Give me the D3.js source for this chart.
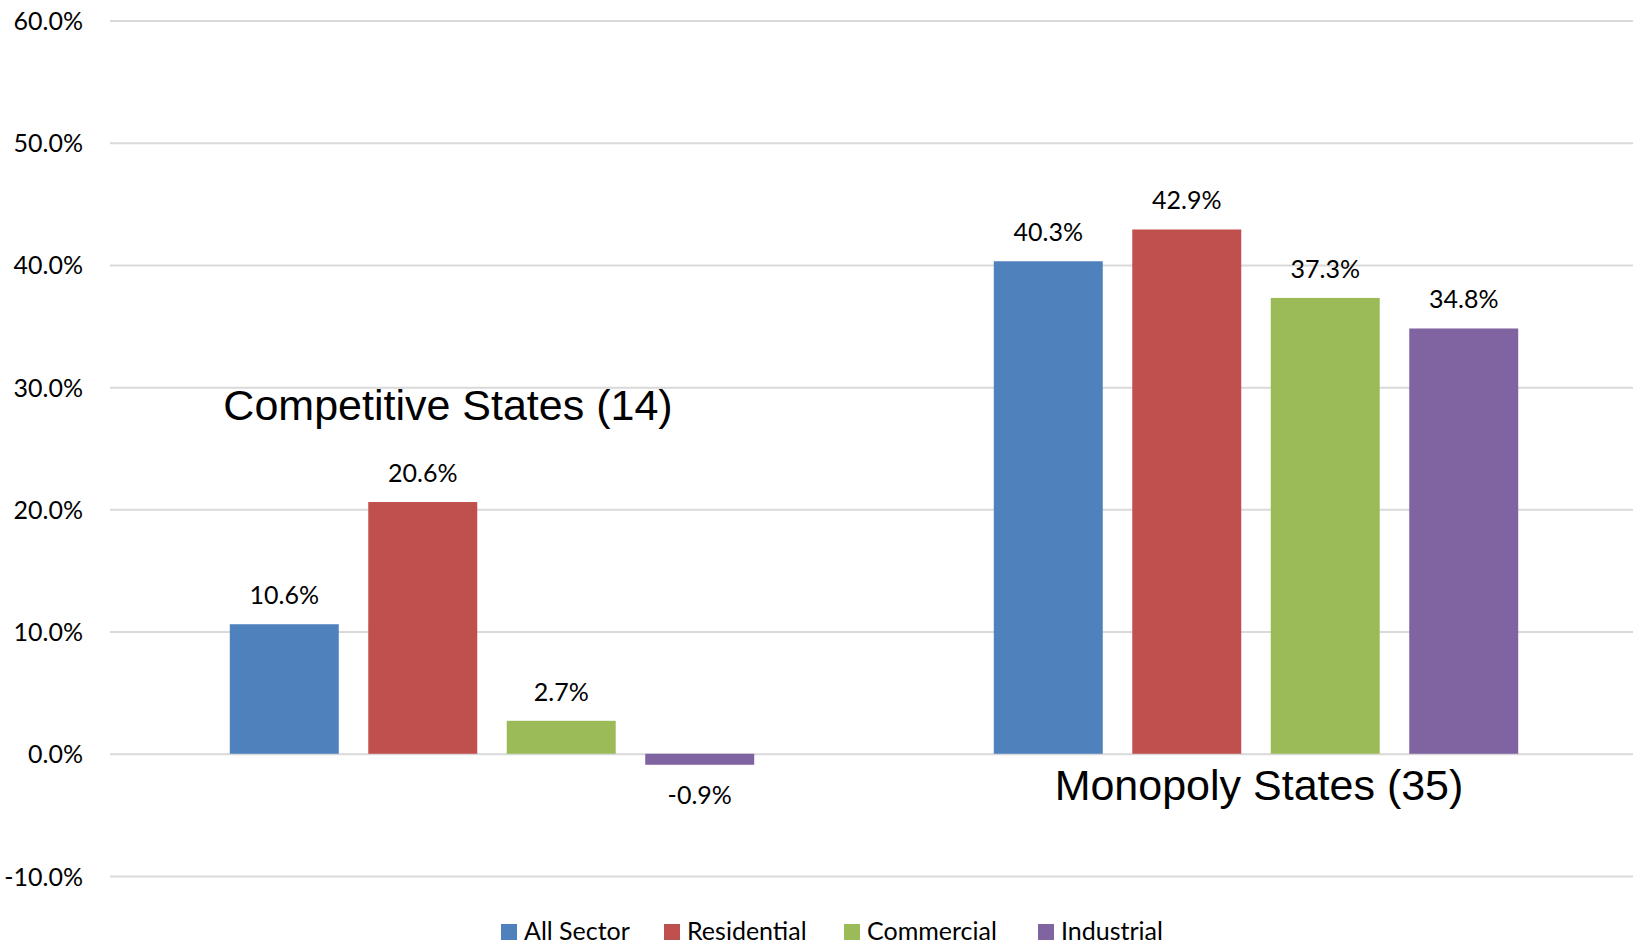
<!DOCTYPE html>
<html>
<head>
<meta charset="utf-8">
<script src="https://cdn.jsdelivr.net/npm/d3@7"></script>
<style>
  html, body { margin: 0; padding: 0; background: #fff; }
  svg { display: block; }
  .lbl { font-family: Lato, "Open Sans", sans-serif; font-size: 25px; fill: #000; }
  .grp { font-family: "Liberation Sans", Arial, sans-serif; font-size: 43px; fill: #000; }
</style>
</head>
<body>
<svg id="chart" width="1633" height="951"></svg>
<script>
const categories = ["Competitive States (14)", "Monopoly States (35)"];
const seriesNames = ["All Sector", "Residential", "Commercial", "Industrial"];
const allSector   = [10.6, 40.3];
const residential = [20.6, 42.9];
const commercial  = [2.7, 37.3];
const industrial  = [-0.9, 34.8];
const yTicks = [-10, 0, 10, 20, 30, 40, 50, 60];
const colors = ["#4f81bd", "#c0504d", "#9bbb59", "#8064a2"];

const seriesValues = [allSector, residential, commercial, industrial];
const rows = categories.map((c, i) => ({
  category: c,
  values: seriesNames.map((s, j) => ({ series: s, value: seriesValues[j][i] }))
}));

const locale = d3.formatLocale({ decimal: ".", thousands: ",", grouping: [3], currency: ["$", ""], minus: "-" });
const pct = v => locale.format(".1f")(v) + "%";

const W = 1633, H = 951;
const plotLeft = 110, plotRight = 1638;
const svg = d3.select("#chart");

const y = d3.scaleLinear().domain([-10, 60]).range([876, 20.5]);
const x0 = d3.scaleBand().domain(categories).range([plotLeft, plotRight]).padding(0);
const x1 = d3.scaleBand().domain(seriesNames).range([0, x0.bandwidth()])
  .paddingInner(0.213).paddingOuter(0.865);
const color = d3.scaleOrdinal().domain(seriesNames).range(colors);

// gridlines
const yAxisGrid = d3.axisLeft(y).tickValues(yTicks).tickSize(-(W - plotLeft)).tickFormat("");
const gGrid = svg.append("g").attr("transform", `translate(${plotLeft},0)`).call(yAxisGrid);
gGrid.select(".domain").remove();
gGrid.selectAll("line").attr("stroke", "#d9d9d9").attr("stroke-width", 2);

// y axis labels
const yAxis = d3.axisLeft(y).tickValues(yTicks).tickSize(0).tickPadding(0).tickFormat(pct);
const gY = svg.append("g").attr("transform", "translate(83,0)").call(yAxis);
gY.select(".domain").remove();
gY.selectAll("text").attr("class", "lbl").attr("font-family", null).attr("font-size", null)
  .attr("dy", "0.36em").attr("fill", "#000");

// bars
const groups = svg.append("g").selectAll("g").data(rows).join("g")
  .attr("transform", d => `translate(${x0(d.category)},0)`);

groups.selectAll("rect").data(d => d.values).join("rect")
  .attr("x", d => x1(d.series))
  .attr("width", x1.bandwidth())
  .attr("y", d => y(Math.max(0, d.value)))
  .attr("height", d => Math.abs(y(d.value) - y(0)))
  .attr("fill", d => color(d.series));

groups.selectAll("text.val").data(d => d.values).join("text")
  .attr("class", "lbl val")
  .attr("text-anchor", "middle")
  .attr("x", d => x1(d.series) + x1.bandwidth() / 2)
  .attr("y", d => d.value >= 0 ? y(d.value) - 20 : y(d.value) + 39)
  .text(d => pct(d.value));

// category labels (placed as in the original)
svg.append("text").attr("class", "grp").attr("text-anchor", "middle")
  .attr("x", x0(categories[0]) + x0.bandwidth() / 2 - 44)
  .attr("y", 420)
  .text(categories[0]);
svg.append("text").attr("class", "grp").attr("text-anchor", "middle")
  .attr("x", x0(categories[1]) + x0.bandwidth() / 2 + 3)
  .attr("y", 800)
  .text(categories[1]);

// legend
const legendX = [501, 664, 844, 1038];
const legend = svg.append("g").selectAll("g").data(seriesNames).join("g")
  .attr("transform", (d, i) => `translate(${legendX[i]},924)`);
legend.append("rect").attr("width", 16).attr("height", 16).attr("fill", d => color(d));
legend.append("text").attr("class", "lbl").attr("x", 23).attr("y", 16).text(d => d);
</script>
</body>
</html>
